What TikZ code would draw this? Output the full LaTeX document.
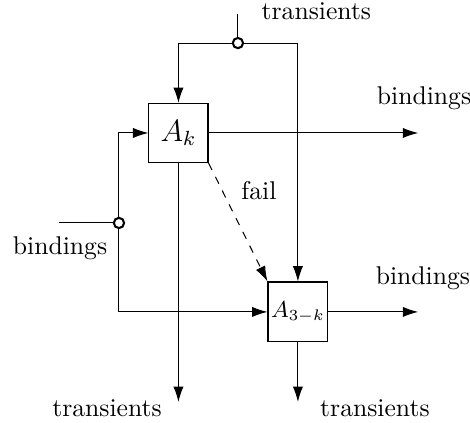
\documentclass[tikz,border=0pt]{standalone}
\usetikzlibrary{arrows.meta, positioning}
\tikzset{
  blockbig/.style   = {rectangle, draw, minimum size=0.81cm, inner sep=0pt, font=\large},
  blocksmall/.style = {rectangle, draw, minimum size=0.82cm, inner sep=0pt, font=\small},
  flow/.style       = {-{Latex[length=6pt,width=4pt]}},
  junct/.style      = {circle, draw, thick, fill=white, inner sep=0pt, minimum size=4pt},
  lbl/.style        = {inner sep=0pt},
}

\begin{document}
\begin{tikzpicture}
  % fester Rahmen wie im Original
  \useasboundingbox (0,0) rectangle (6.44,5.795);

  \node[blockbig]   (ak)  at (2.445,3.973) {$A_k$};
  \node[blocksmall] (a3k) at (4.082,1.521) {$A_{3-k}$};

  \coordinate (topin)  at (3.26,5.60);
  \coordinate (topjn)  at (3.26,5.205);
  \coordinate (topl)   at (ak.north |- topjn);
  \coordinate (topr)   at (a3k.north |- topjn);
  \coordinate (leftin) at (0.81,2.74);
  \coordinate (leftjn) at (1.63,2.74);
  \coordinate (leftt)  at (leftjn |- ak.west);
  \coordinate (leftb)  at (leftjn |- a3k.west);
  \coordinate (rightx) at (5.73,0);
  \coordinate (boty)   at (0,0.288);

  % transients oben
  \draw (topin) -- (topjn);
  \draw[flow] (topjn) -- (topl) -- (ak.north);
  \draw[flow] (topjn) -- (topr) -- (a3k.north);

  % bindings links
  \draw (leftin) -- (leftjn);
  \draw[flow] (leftjn) -- (leftt) -- (ak.west);
  \draw[flow] (leftjn) -- (leftb) -- (a3k.west);

  % Ausgaenge
  \draw[flow] (ak.east)   -- (rightx |- ak.east);
  \draw[flow] (a3k.east)  -- (rightx |- a3k.east);
  \draw[flow] (ak.south)  -- (ak.south |- boty);
  \draw[flow] (a3k.south) -- (a3k.south |- boty);
  \draw[flow, dashed] (ak.south east) -- (a3k.north west);

  \node[junct] (topdot)  at (topjn) {};
  \node[junct] (leftdot) at (leftjn) {};

  \node[lbl] (ttop)   at (4.335,5.637) {transients};
  \node[lbl] (bright) at (5.81,4.45)   {bindings};
  \node[lbl] (bmid)   at (5.795,1.986) {bindings};
  \node[lbl] (bleft)  at (0.822,2.397) {bindings};
  \node[lbl] (tbl)    at (1.466,0.205) {transients};
  \node[lbl] (tbr)    at (5.137,0.205) {transients};
  \node[lbl] (fail)   at (3.548,3.178) {fail};
\end{tikzpicture}
\end{document}
